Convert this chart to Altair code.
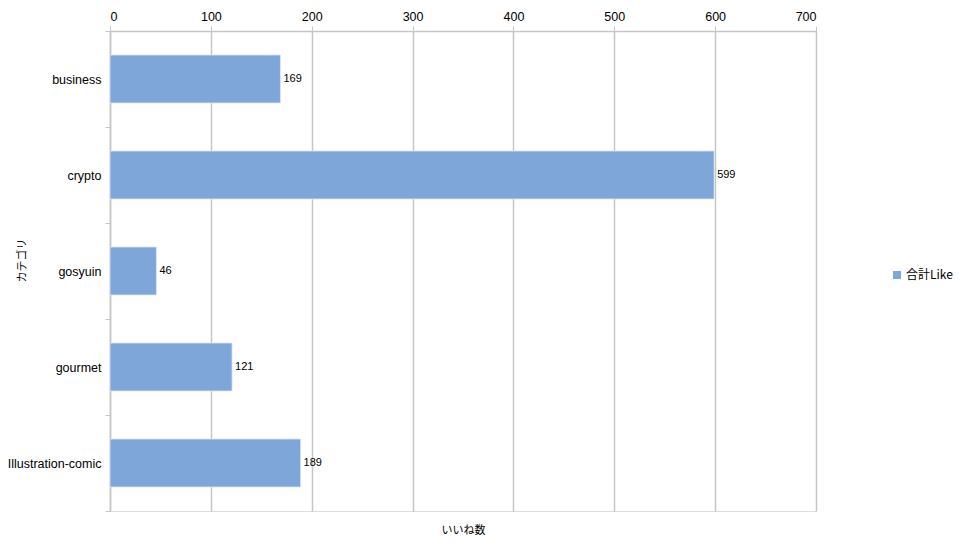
import altair as alt
import pandas as pd

categories = ["business", "crypto", "gosyuin", "gourmet", "Illustration-comic"]
likes = [169, 599, 46, 121, 189]
series_name = "合計Like"

df = pd.DataFrame({"cat": categories, "like": likes, "series": [series_name] * len(categories)})

FONT = "Liberation Sans"
GRID = "#C6C6C6"

base = alt.Chart(df).encode(
    y=alt.Y(
        "cat:N",
        sort=categories,
        scale=alt.Scale(paddingInner=0, paddingOuter=0),
        axis=alt.Axis(
            title="カテゴリ",
            titleFont="Noto Sans CJK JP",
            titleFontSize=11,
            titleFontWeight="normal",
            titleColor="black",
            titleX=-88,
            titleY=229,
            titleAngle=270,
            titleAlign="center",
            titleBaseline="middle",
            labelFont=FONT,
            labelFontSize=12.5,
            labelColor="black",
            labelPadding=4,
            domainColor=GRID,
            domainWidth=1.5,
            tickColor=GRID,
            tickSize=5,
            tickBand="extent",
            grid=False,
        ),
    ),
)

bars = base.mark_bar(stroke="#DCE6F2", strokeWidth=0.8, height={"band": 0.5}).encode(
    x=alt.X(
        "like:Q",
        scale=alt.Scale(domain=[0, 700], nice=False),
        axis=alt.Axis(
            orient="top",
            values=[0, 100, 200, 300, 400, 500, 600, 700],
            title="いいね数",
            titleFont="Noto Sans CJK JP",
            titleFontSize=11,
            titleFontWeight="normal",
            titleColor="black",
            titleX=353,
            titleY=499,
            titleAlign="center",
            titleBaseline="middle",
            labelFont=FONT,
            labelFontSize=12.5,
            labelColor="black",
            labelPadding=3,
            domainColor=GRID,
            domainWidth=1.5,
            tickColor=GRID,
            tickSize=5,
            gridColor=GRID,
            gridWidth=1.5,
        ),
    ),
    color=alt.Color(
        "series:N",
        scale=alt.Scale(range=["#7EA6D9"]),
        legend=alt.Legend(
            title=None,
            orient="none",
            legendX=781,
            legendY=238,
            symbolType="square",
            symbolSize=64,
            symbolStrokeWidth=0,
            labelFont="Noto Sans CJK JP",
            labelFontSize=12,
            labelColor="black",
            labelOffset=3,
            padding=0,
        ),
    ),
)

labels = base.mark_text(align="left", baseline="middle", dx=3, font=FONT, fontSize=11, color="black").encode(
    x="like:Q",
    text="like:Q",
)

chart = (bars + labels).properties(
    width=706,
    height=480,
    padding={"left": 102, "top": 23, "right": 138, "bottom": 32},
    autosize=alt.AutoSizeParams(type="none"),
).configure_view(stroke=None).configure(background="white")

chart.save("out.html", embed_options={"renderer": "svg", "actions": False})
